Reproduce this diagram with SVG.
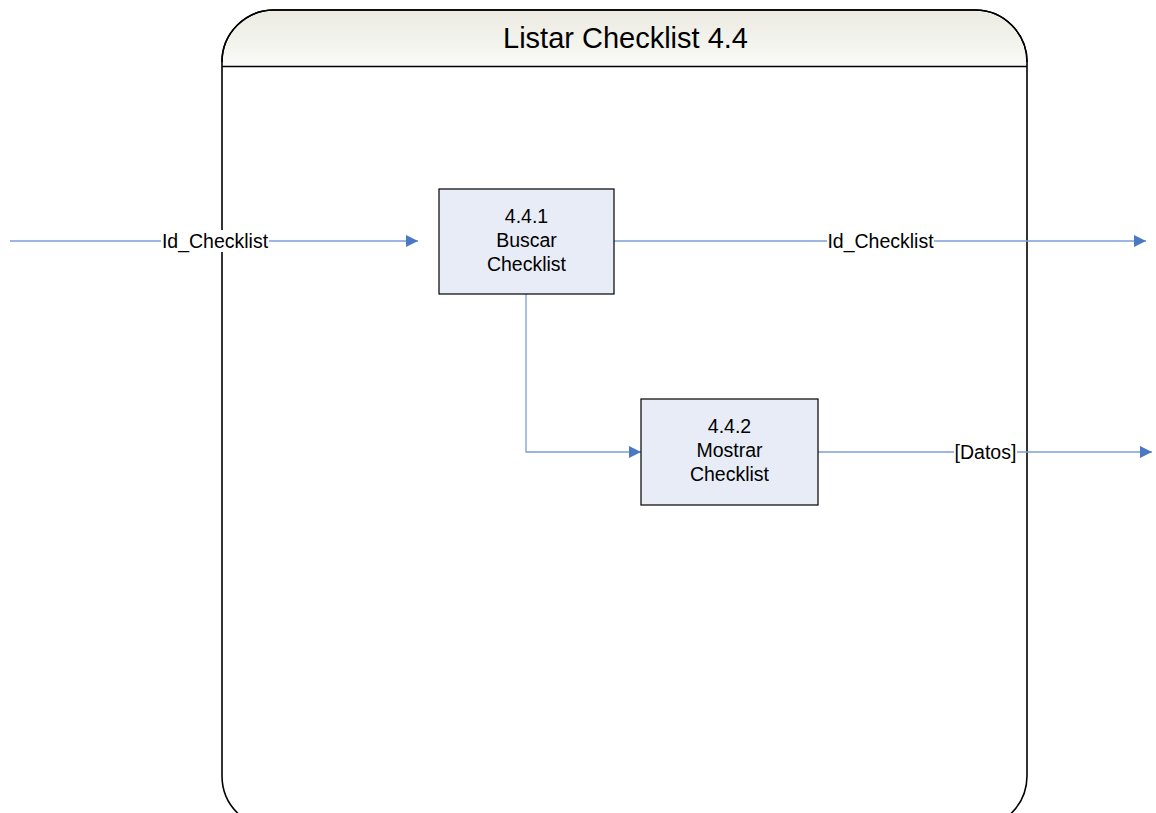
<svg xmlns="http://www.w3.org/2000/svg" width="1156" height="813" viewBox="0 0 1156 813">
  <defs>
    <linearGradient id="hdr" x1="0" y1="0" x2="0" y2="1">
      <stop offset="0" stop-color="#ebebe2"/>
      <stop offset="1" stop-color="#fafaf7"/>
    </linearGradient>
    <marker id="arr" viewBox="0 0 10 10" refX="10" refY="5" markerWidth="13" markerHeight="12" markerUnits="userSpaceOnUse" orient="auto">
      <path d="M0,0 L10,5 L0,10 Z" fill="#4a78c2"/>
    </marker>
  </defs>
  <style>
    .frame { fill: #ffffff; stroke: #000000; stroke-width: 1.6; }
    .proc { fill: #e7ecf6; stroke: #000000; stroke-width: 1.2; }
    .flow { fill: none; stroke: #7a9fd6; stroke-width: 1.3; marker-end: url(#arr); }
    .txt { font-family: "Liberation Sans", Arial, sans-serif; font-size: 19.5px; fill: #000000; text-anchor: middle; }
    .title { font-family: "Liberation Sans", Arial, sans-serif; font-size: 29px; fill: #000000; text-anchor: middle; }
    .lblbg { fill: #ffffff; }
  </style>

  <rect width="1156" height="813" fill="#ffffff"/>

  <!-- process frame with header band -->
  <g id="frame">
    <path class="frame" d="M222,62 A52,52 0 0 1 274,10 L975,10 A52,52 0 0 1 1027,62 L1027,776 A52,52 0 0 1 975,828 L274,828 A52,52 0 0 1 222,776 Z"/>
    <path d="M223,62 A51,51 0 0 1 274,11 L975,11 A51,51 0 0 1 1026,62 L1026,66 L223,66 Z" fill="url(#hdr)"/>
    <path d="M222,62 A52,52 0 0 1 274,10 L975,10 A52,52 0 0 1 1027,62" fill="none" stroke="#000" stroke-width="1.6"/>
    <line x1="222" y1="66.5" x2="1027" y2="66.5" stroke="#000" stroke-width="1.6"/>
    <text class="title" x="625.5" y="47.5">Listar Checklist 4.4</text>
  </g>

  <!-- data flows -->
  <g id="connectors">
    <line class="flow" x1="10" y1="241" x2="418" y2="241"/>
    <line class="flow" x1="614" y1="241" x2="1146" y2="241"/>
    <polyline class="flow" points="526,294 526,452 641,452"/>
    <line class="flow" x1="818" y1="452" x2="1152" y2="452"/>
    <rect class="lblbg" x="161" y="230" width="108" height="22"/>
    <text class="txt" x="215" y="248">Id_Checklist</text>
    <rect class="lblbg" x="827" y="230" width="107" height="22"/>
    <text class="txt" x="880.5" y="248">Id_Checklist</text>
    <rect class="lblbg" x="954" y="441" width="63" height="22"/>
    <text class="txt" x="985.5" y="459">[Datos]</text>
  </g>

  <g id="p441">
    <rect class="proc" x="439" y="189" width="175" height="105"/>
    <text class="txt" x="526.5" y="223.3">4.4.1</text>
    <text class="txt" x="526.5" y="247.3">Buscar</text>
    <text class="txt" x="526.5" y="270.5">Checklist</text>
  </g>

  <g id="p442">
    <rect class="proc" x="641" y="399" width="177" height="106"/>
    <text class="txt" x="729.5" y="433.3">4.4.2</text>
    <text class="txt" x="729.5" y="457.3">Mostrar</text>
    <text class="txt" x="729.5" y="480.5">Checklist</text>
  </g>
</svg>
